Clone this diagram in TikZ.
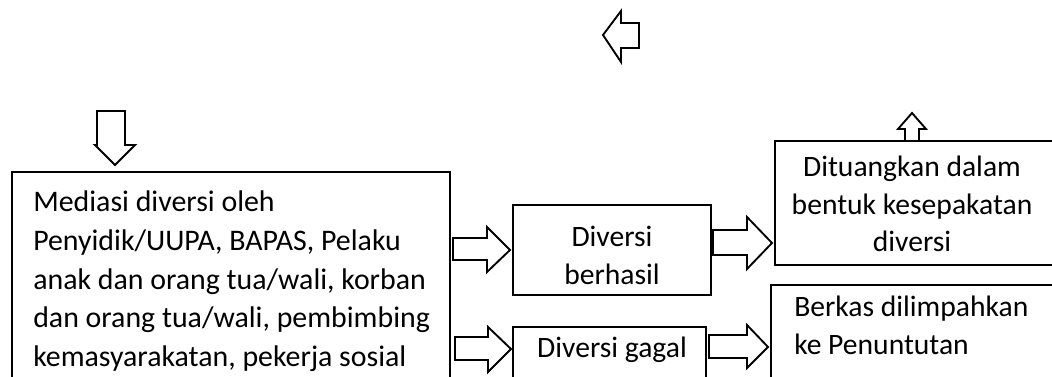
\documentclass[tikz,border=0pt]{standalone}
\usepackage{fontspec}
\setmainfont{Carlito}
\usetikzlibrary{fit}
\begin{document}
\begin{tikzpicture}[x=0.75pt,y=-0.75pt,
  box/.style={draw, line width=1.4pt, inner sep=0pt},
  blockarrow/.style={draw, line width=1.4pt, line join=miter, fill=white},
  txt/.style={inner sep=0pt, font=\fontsize{22.4}{29}\selectfont},
  txtb/.style={inner sep=0pt, font=\fontsize{22.2}{28}\selectfont}]
\useasboundingbox (0,0) rectangle (1052,377);
\clip (0,0) rectangle (1052,377);
% box corners
\coordinate (m1) at (12,172);  \coordinate (m2) at (450,420);
\coordinate (b1) at (513,205); \coordinate (b2) at (711,295);
\coordinate (g1) at (513,327); \coordinate (g2) at (706,420);
\coordinate (d1) at (775,141); \coordinate (d2) at (1060,265);
\coordinate (k1) at (771,285); \coordinate (k2) at (1060,420);
\node[box, fit=(m1)(m2)] (med) {};
\node[box, fit=(b1)(b2)] (berhasil) {};
\node[box, fit=(g1)(g2)] (gagal) {};
\node[box, fit=(d1)(d2)] (dituangkan) {};
\node[box, fit=(k1)(k2)] (berkas) {};
% texts
\node[txt, anchor=base west] (medtxt) at (33,212) {\parbox[t]{330pt}{\raggedright
Mediasi diversi oleh\\
Penyidik/UUPA, BAPAS, Pelaku\\
anak dan orang tua/wali, korban\\
dan orang tua/wali, pembimbing\\
kemasyarakatan, pekerja sosial}};
\node[txtb, anchor=base] (berhasiltxt) at (612,247) {\parbox[t]{140pt}{\centering Diversi\\berhasil}};
\node[txtb, anchor=base] (gagaltxt) at (612,358) {Diversi gagal};
\node[txtb, anchor=base] (dituangkantxt) at (912,177) {\parbox[t]{200pt}{\centering Dituangkan dalam\\bentuk kesepakatan\\diversi}};
\node[txtb, anchor=base west] (berkastxt) at (794,317) {\parbox[t]{200pt}{\raggedright Berkas dilimpahkan\\ke Penuntutan}};
% block arrows
\draw[blockarrow] (97,111) -- (125,111) -- (125,145) -- (135,145) -- (115,165) -- (95,145) -- (97,145) -- cycle;
\draw[blockarrow] (603,35) -- (621,11) -- (621,23) -- (639,23) -- (639,48) -- (621,48) -- (621,62) -- cycle;
\draw[blockarrow] (912,113) -- (926,129) -- (919,129) -- (919,141) -- (905,141) -- (905,129) -- (898,129) -- cycle;
\draw[blockarrow] (453,238) -- (487,238) -- (487,227) -- (510,250) -- (487,272) -- (487,260) -- (453,260) -- cycle;
\draw[blockarrow] (455,337) -- (488,337) -- (488,327) -- (511,349) -- (488,372) -- (488,360) -- (455,360) -- cycle;
\draw[blockarrow] (713,230) -- (747,230) -- (747,217) -- (772,243) -- (747,269) -- (747,255) -- (713,255) -- cycle;
\draw[blockarrow] (709,335) -- (747,335) -- (747,325) -- (768,347) -- (747,368) -- (747,358) -- (709,358) -- cycle;
\end{tikzpicture}
\end{document}
